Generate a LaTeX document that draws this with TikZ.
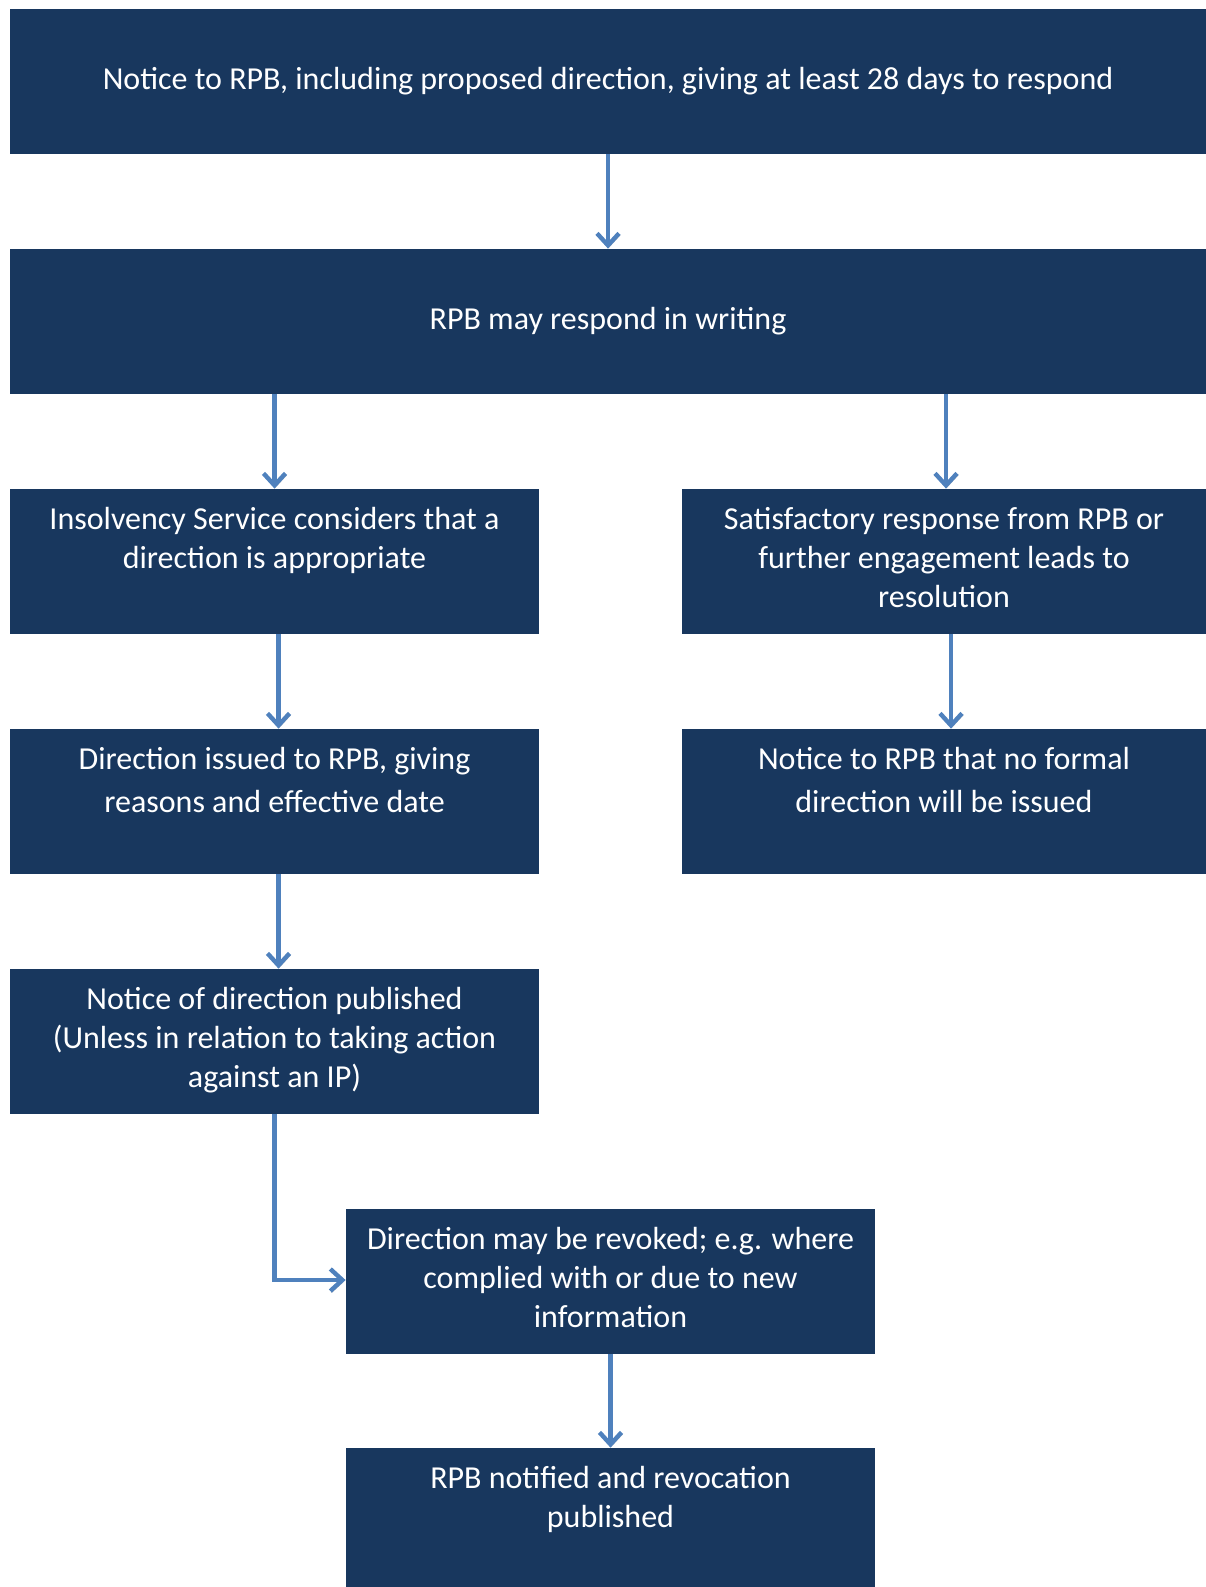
\documentclass[tikz,border=0pt]{standalone}
\usepackage{fontspec}
\setmainfont{Carlito}
\definecolor{boxnavy}{RGB}{24,55,94}
\definecolor{arrowblue}{RGB}{79,129,189}
\definecolor{shadowgrey}{RGB}{195,195,195}
\usetikzlibrary{arrows.meta, positioning}

\begin{document}
\begin{tikzpicture}[
  x=0.5pt, y=-0.5pt,
  box/.style={rectangle, fill=boxnavy, inner sep=0pt, minimum height=72.5pt},
  wide/.style={box, minimum width=598pt},
  half/.style={box, minimum width=264.5pt},
  txt/.style={font=\fontsize{16}{19.5}\selectfont, text=white, align=center, inner sep=0pt},
  loose/.style={txt, font=\fontsize{16}{21.75}\selectfont},
  arr/.style={-{Straight Barb[length=6pt, width=11pt]}, line width=2.2pt, arrowblue,
    preaction={draw=shadowgrey, transform canvas={shift={(0.6pt,-0.8pt)}}}}
]
  \useasboundingbox (0,0) rectangle (1206,1587);

  % boxes
  \node[wide, txt] (notice) at (608,81.5) {Notice to RPB, including proposed direction, giving at least 28 days to respond};
  \node[wide, txt] (respond) at (608,321.5) {RPB may respond in writing};
  \node[half] (appropriate) at (274.5,561.5) {};
  \node[half, minimum width=262pt] (satisfactory) at (944,561.5) {};
  \node[half] (issued) at (274.5,801.5) {};
  \node[half, minimum width=262pt] (noformal) at (944,801.5) {};
  \node[half] (published) at (274.5,1041.5) {};
  \node[half] (revoked) at (610.5,1281.5) {};
  \node[half, minimum height=69.5pt] (notified) at (610.5,1517.5) {};

  % texts
  \node[txt, below=9pt of appropriate.north] (appropriatetxt) {Insolvency Service considers that a\\direction is appropriate};
  \node[txt, below=9pt of satisfactory.north] (satisfactorytxt) {Satisfactory response from RPB or\\further engagement leads to\\resolution};
  \node[loose, below=9pt of issued.north] (issuedtxt) {Direction issued to RPB, giving\\reasons and effective date};
  \node[loose, below=9pt of noformal.north] (noformaltxt) {Notice to RPB that no formal\\direction will be issued};
  \node[txt, below=9pt of published.north] (publishedtxt) {Notice of direction published\\(Unless in relation to taking action\\against an IP)};
  \node[txt, below=9pt of revoked.north] (revokedtxt) {Direction may be revoked; e.g. where\\complied with or due to new\\information};
  \node[txt, below=9pt of notified.north] (notifiedtxt) {RPB notified and revocation\\published};

  % arrows
  \draw[arr] (notice) -- (respond);
  \draw[arr] (appropriate.north |- respond.south) -- (appropriate.north);
  \draw[arr] ([xshift=1pt]satisfactory.north |- respond.south) -- ([xshift=1pt]satisfactory.north);
  \draw[arr] ([xshift=2pt]appropriate.south) -- ([xshift=2pt]issued.north);
  \draw[arr] ([xshift=3.5pt]satisfactory.south) -- ([xshift=3.5pt]noformal.north);
  \draw[arr] ([xshift=2pt]issued.south) -- ([xshift=2pt]published.north);
  \draw[arr] (published.south) |- ([yshift=0.75pt]revoked.west);
  \draw[arr] (revoked) -- (notified);
\end{tikzpicture}
\end{document}
